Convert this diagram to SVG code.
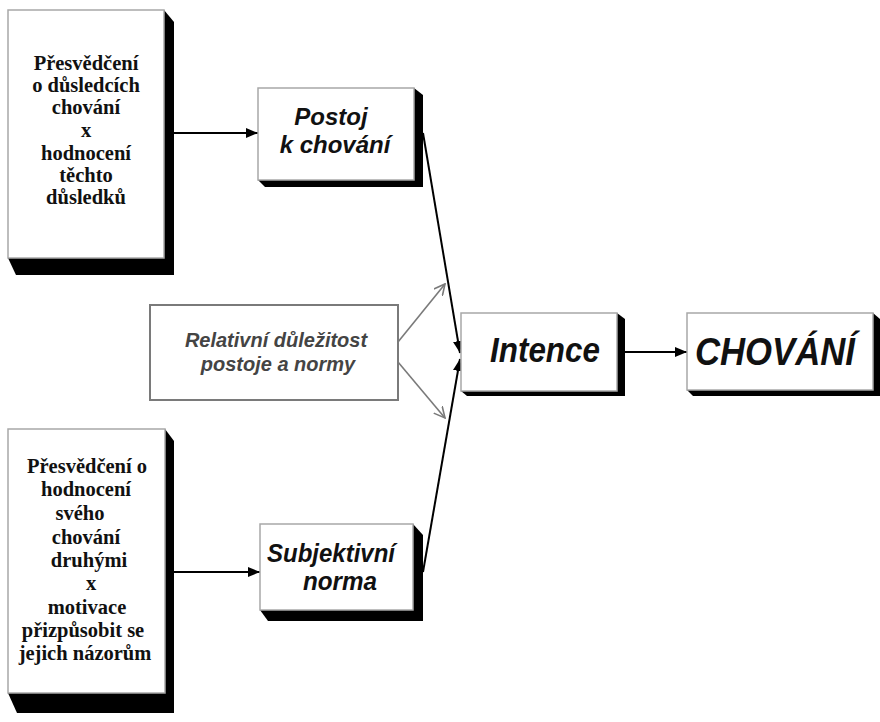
<svg xmlns="http://www.w3.org/2000/svg" width="880" height="722" viewBox="0 0 880 722">
  <style>
    .box { fill: #ffffff; stroke: #a8a8a8; stroke-width: 1.5; }
    .shadow { fill: #000000; }
    .serif { font-family: "Liberation Serif", "Times New Roman", serif; font-weight: bold; font-size: 20.5px; fill: #111; text-anchor: middle; }
    .sans { font-family: "Liberation Sans", Arial, sans-serif; font-weight: bold; font-style: italic; fill: #111; text-anchor: middle; }
    .grey { fill: #444; }
    .link { stroke: #000; stroke-width: 2; fill: none; }
    .glink { stroke: #7a7a7a; stroke-width: 1.6; fill: none; }
  </style>
  <defs>
    <marker id="arrow" viewBox="0 0 12 10" refX="12" refY="5" markerWidth="12" markerHeight="10" markerUnits="userSpaceOnUse" orient="auto">
      <path d="M0,0 L12,5 L0,10 Z" fill="#000"/>
    </marker>
    <marker id="open" viewBox="0 0 12 12" refX="11" refY="6" markerWidth="12" markerHeight="12" markerUnits="userSpaceOnUse" orient="auto">
      <path d="M0,0.5 L11,6 L0,11.5" fill="none" stroke="#7a7a7a" stroke-width="1.6"/>
    </marker>
  </defs>

  <rect width="880" height="722" fill="#ffffff"/>

  <!-- connectors -->
  <g id="connectors">
    <line class="link" x1="174" y1="133" x2="258" y2="133" marker-end="url(#arrow)"/>
    <line class="link" x1="174" y1="572" x2="260" y2="572" marker-end="url(#arrow)"/>
    <line class="link" x1="423" y1="133" x2="460" y2="353" marker-end="url(#arrow)"/>
    <line class="link" x1="423" y1="572" x2="460" y2="359" marker-end="url(#arrow)"/>
    <line class="link" x1="625" y1="352" x2="687" y2="352" marker-end="url(#arrow)"/>
    <line class="glink" x1="398" y1="342" x2="445" y2="284" marker-end="url(#open)"/>
    <line class="glink" x1="398" y1="362" x2="445" y2="418" marker-end="url(#open)"/>
  </g>

  <!-- beliefs about consequences -->
  <g id="presvedceni-dusledky">
    <polygon class="shadow" points="164,10 174,22 174,275 16,275 8,258"/>
    <rect class="box" x="8" y="10" width="156" height="248"/>
    <text class="serif" x="86" y="70">Přesvědčení</text>
    <text class="serif" x="86" y="92">o důsledcích</text>
    <text class="serif" x="86" y="114">chování</text>
    <text class="serif" x="86" y="137">x</text>
    <text class="serif" x="86" y="160">hodnocení</text>
    <text class="serif" x="86" y="182">těchto</text>
    <text class="serif" x="86" y="204">důsledků</text>
  </g>

  <!-- normative beliefs -->
  <g id="presvedceni-normy">
    <polygon class="shadow" points="165,429 174,441 174,713 17,713 8,693"/>
    <rect class="box" x="8" y="429" width="157" height="264"/>
    <text class="serif" x="87" y="473">Přesvědčení o</text>
    <text class="serif" x="86" y="496">hodnocení</text>
    <text class="serif" x="80" y="520">svého</text>
    <text class="serif" x="86" y="544">chování</text>
    <text class="serif" x="89" y="567">druhými</text>
    <text class="serif" x="91" y="590">x</text>
    <text class="serif" x="87" y="614">motivace</text>
    <text class="serif" x="83" y="637">přizpůsobit se</text>
    <text class="serif" x="85" y="660">jejich názorům</text>
  </g>

  <!-- attitude -->
  <g id="postoj">
    <polygon class="shadow" points="414,88 423,95 423,187 265,187 258,180"/>
    <rect class="box" x="258" y="88" width="156" height="92"/>
    <text class="sans" x="331" y="125" font-size="24">Postoj</text>
    <text class="sans" x="335" y="153" font-size="24">k chování</text>
  </g>

  <!-- subjective norm -->
  <g id="subjektivni-norma">
    <polygon class="shadow" points="413,524 423,535 423,621 268,621 260,610"/>
    <rect class="box" x="260" y="524" width="153" height="86"/>
    <text class="sans" x="331" y="562" font-size="26" textLength="128" lengthAdjust="spacingAndGlyphs">Subjektivní</text>
    <text class="sans" x="340" y="590" font-size="26" textLength="74" lengthAdjust="spacingAndGlyphs">norma</text>
  </g>

  <!-- relative weight -->
  <g id="relativni-dulezitost">
    <rect x="150" y="305" width="248" height="95" fill="#ffffff" stroke="#7a7a7a" stroke-width="2"/>
    <text class="sans grey" x="276" y="347" font-size="20">Relativní důležitost</text>
    <text class="sans grey" x="278" y="371" font-size="20">postoje a normy</text>
  </g>

  <!-- intention -->
  <g id="intence">
    <polygon class="shadow" points="617,313 625,319 625,396 467,396 461,391"/>
    <rect class="box" x="461" y="313" width="156" height="78"/>
    <text class="sans" x="545" y="362" font-size="35" textLength="110" lengthAdjust="spacingAndGlyphs">Intence</text>
  </g>

  <!-- behaviour -->
  <g id="chovani">
    <polygon class="shadow" points="873,313 880,319 880,396 693,396 687,390"/>
    <rect class="box" x="687" y="313" width="186" height="77"/>
    <text class="sans" x="775" y="365" font-size="38" textLength="160" lengthAdjust="spacingAndGlyphs">CHOVÁNÍ</text>
  </g>
</svg>
